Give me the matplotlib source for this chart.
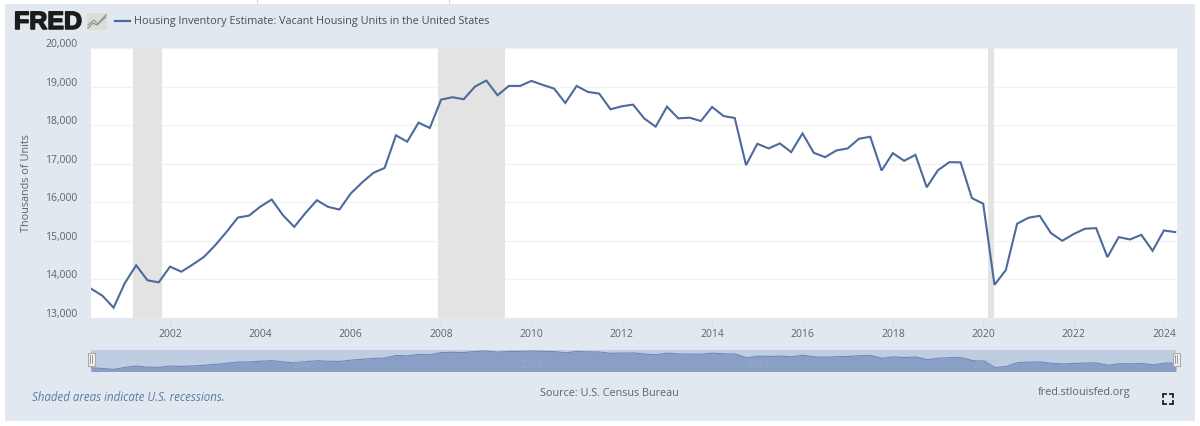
import matplotlib
matplotlib.use('Agg')
import matplotlib.pyplot as plt
import matplotlib.patheffects as pe
from matplotlib.lines import Line2D
from matplotlib.patches import Rectangle
from matplotlib.transforms import ScaledTranslation

W, H = 1200, 426

# quarterly vacant housing units, thousands, 2000 Q2 to 2024 Q2
units = [
    13761, 13580, 13268,
    13908, 14367, 13977, 13925,
    14332, 14200, 14385, 14583,
    14886, 15232, 15604, 15655,
    15889, 16071, 15664, 15362,
    15725, 16054, 15880, 15811,
    16227, 16512, 16763, 16890,
    17736, 17571, 18065, 17926,
    18662, 18723, 18671, 19000,
    19156, 18775, 19017, 19017,
    19147, 19043, 18948, 18576,
    19017, 18861, 18818, 18411,
    18489, 18532, 18169, 17961,
    18480, 18176, 18193, 18107,
    18471, 18237, 18185, 16962,
    17517, 17396, 17526, 17300,
    17786, 17283, 17170, 17343,
    17396, 17647, 17699, 16823,
    17274, 17075, 17231, 16389,
    16832, 17040, 17035, 16109,
    15962, 13860, 14240, 15443,
    15599, 15650, 15201, 15002,
    15175, 15313, 15330, 14578,
    15097, 15036, 15157, 14742,
    15270, 15227,
]
years = [2000.25 + i * 0.25 for i in range(len(units))]

recessions = [(2001.17, 2001.83), (2007.93, 2009.41), (2020.10, 2020.24)]
y_ticks = [13000, 14000, 15000, 16000, 17000, 18000, 19000, 20000]
x_ticks = [2002, 2004, 2006, 2008, 2010, 2012, 2014, 2016, 2018, 2020, 2022, 2024]
nav_ticks = [2005, 2010, 2015, 2020]

title = 'Housing Inventory Estimate: Vacant Housing Units in the United States'

BG = '#e1e8f0'
LINE = '#4c6a9c'
TEXT = '#5f6468'

plt.rcParams['font.family'] = ['Open Sans', 'DejaVu Sans']


def px_axes(left, top, right, bottom):
    # axes placed by pixel box, y counted from the top of the image
    return fig.add_axes([left / W, 1 - bottom / H, (right - left) / W, (bottom - top) / H])


def fx(x):
    return x / W


def fy(y):
    return 1 - y / H


fig = plt.figure(figsize=(W / 100, H / 100), dpi=100, facecolor='white')

# page panel behind the chart
fig.add_artist(Rectangle((fx(5), fy(421)), 1190 / W, 417.5 / H, transform=fig.transFigure,
                         facecolor=BG, edgecolor='none', zorder=-1))
for x in [257, 449]:
    fig.add_artist(Line2D([fx(x), fx(x)], [fy(0), fy(3.5)], color='#d8d8d8', lw=0.8))

# main chart
ax = px_axes(91, 48, 1177, 318)
ax.plot(years, units, color=LINE, lw=1.5, solid_joinstyle='miter', zorder=3)
for start, end in recessions:
    ax.axvspan(start, end, color='#e3e3e3', lw=0, zorder=2)
ax.set_xlim(2000.25, 2024.29)
ax.set_ylim(13000, 20000)
ax.set_yticks(y_ticks)
ax.set_yticklabels([f'{v:,}' for v in y_ticks])
ax.set_xticks(x_ticks)
ax.set_xticklabels([str(v) for v in x_ticks])
ax.grid(axis='y', color='#f2f2f2', lw=1.0, zorder=1)
ax.set_axisbelow(True)
ax.tick_params(axis='y', length=0, pad=10, labelsize=7.5, labelcolor=TEXT)
ax.tick_params(axis='x', length=6, width=0.8, color='#d5dde6', pad=2, labelsize=7.5, labelcolor=TEXT)
# value labels sit a little above their grid lines
label_shift = ScaledTranslation(0, 5 / 100, fig.dpi_scale_trans)
for label in ax.get_yticklabels():
    label.set_transform(label.get_transform() + label_shift)
for side in ax.spines.values():
    side.set_visible(False)
fig.text(fx(27), fy(183), 'Thousands of Units', rotation=90, ha='center', va='center',
         fontsize=7.8, color=TEXT)

# navigator strip under the chart
nav = px_axes(91, 349.5, 1176, 371.5)
nav.set_facecolor('#bfcde2')
nav.fill_between(years, units, 12600, color='#8a9fc6', lw=0)
nav.plot(years, units, color='#6f89b8', lw=0.8)
nav.set_xlim(2000.25, 2024.25)
nav.set_ylim(12600, 19630)
nav.set_xticks([])
nav.set_yticks([])
for side in nav.spines.values():
    side.set_visible(False)
for year in nav_ticks:
    nav.text(year, 14400, str(year), ha='center', va='center', fontsize=7.5,
             color='#a3aec6', alpha=0.55)
for x in [91, 1176]:
    fig.add_artist(Rectangle((fx(x - 3.5), fy(366)), 7 / W, 13.5 / H, transform=fig.transFigure,
                             facecolor='#f2f2f2', edgecolor='#a9a9a9', lw=0.8))
    for dx in [-1, 1]:
        fig.add_artist(Line2D([fx(x + dx), fx(x + dx)], [fy(355), fy(363)], color='#9a9a9a', lw=0.7))

# FRED logo and legend
fig.text(fx(14), fy(22), 'FRED', fontsize=18, fontweight='bold', family=['Liberation Sans', 'DejaVu Sans'],
         color='#1b1b1b', va='center', ha='left',
         path_effects=[pe.withStroke(linewidth=1.1, foreground='#1b1b1b')])
fig.add_artist(Rectangle((fx(87), fy(30)), 20 / W, 17 / H, transform=fig.transFigure,
                         facecolor='#d9dfd5', edgecolor='none'))
fig.add_artist(Line2D([fx(88), fx(93), fx(97), fx(102), fx(106)],
                      [fy(28), fy(23), fy(25), fy(19), fy(15)], color='#8a9a70', lw=0.9))
fig.add_artist(Line2D([fx(88), fx(94), fx(98), fx(106)],
                      [fy(25), fy(20), fy(24), fy(17)], color='#7d8d9d', lw=0.7))
fig.add_artist(Line2D([fx(115), fx(130)], [fy(21), fy(21)], color=LINE, lw=1.6))
fig.text(fx(134.5), fy(21.5), title, fontsize=7.8, color='#4a4f55', va='center', ha='left')

# footer
fig.text(fx(32), fy(397.5), 'Shaded areas indicate U.S. recessions.', fontsize=8.3, style='italic',
         color='#5a78a8', va='center', ha='left')
fig.text(fx(609), fy(393), 'Source: U.S. Census Bureau', fontsize=7.8, color=TEXT, va='center', ha='center')
fig.text(fx(1130), fy(393), 'fred.stlouisfed.org', fontsize=7.8, color=TEXT, va='center', ha='right')

# fullscreen icon
for cx, sx in [(1163, 1), (1173, -1)]:
    for cy, sy in [(393.5, 1), (403.5, -1)]:
        fig.add_artist(Line2D([fx(cx + sx * 3), fx(cx), fx(cx)],
                              [fy(cy), fy(cy), fy(cy + sy * 3)], color='#222222', lw=1.3,
                              solid_joinstyle='miter'))

fig.savefig('out.png', dpi=100, facecolor=fig.get_facecolor())
